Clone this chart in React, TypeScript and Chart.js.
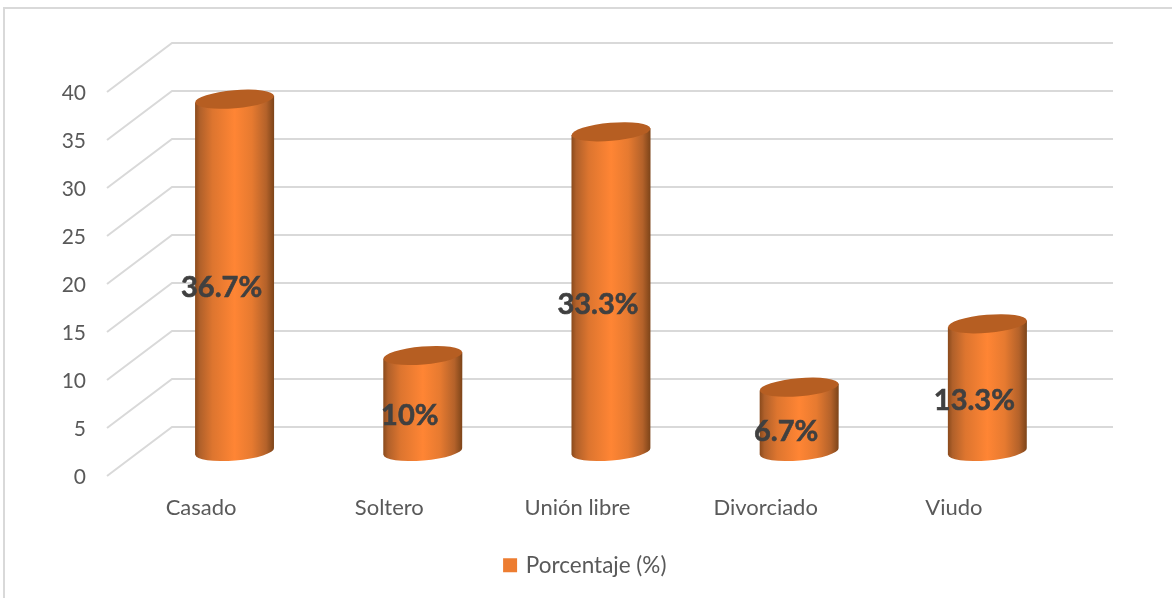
import React, { useEffect, useRef } from "react";
import { Chart, registerables } from "chart.js";

Chart.register(...registerables);

const categories = ["Casado", "Soltero", "Unión libre", "Divorciado", "Viudo"];
const percentages = [36.7, 10, 33.3, 6.7, 13.3];
const valueLabels = ["36.7%", "10%", "33.3%", "6.7%", "13.3%"];
const seriesName = "Porcentaje (%)";

const FONT = "Lato, Carlito, sans-serif";
const GRID = "#d9d9d9";
const DEPTH_X = 65;
const DEPTH_Y = -49;
const TILT = -0.085;

// Walls of the 3D box: a diagonal on the side wall and a line along the back wall per tick.
const boxGrid = {
  id: "boxGrid",
  beforeDatasetsDraw(chart: any) {
    const { ctx, chartArea, scales } = chart;
    ctx.save();
    ctx.strokeStyle = GRID;
    ctx.lineWidth = 2;
    for (const tick of scales.y.ticks) {
      const y = scales.y.getPixelForValue(tick.value);
      ctx.beginPath();
      ctx.moveTo(chartArea.left, y);
      ctx.lineTo(chartArea.left + DEPTH_X, y + DEPTH_Y);
      ctx.lineTo(chartArea.right + DEPTH_X, y + DEPTH_Y);
      ctx.stroke();
    }
    ctx.restore();
  },
};

// Replaces the flat bars with cylinders standing halfway into the box.
const cylinders = {
  id: "cylinders",
  beforeDatasetDraw(chart: any, args: any) {
    const { ctx } = chart;
    for (const bar of args.meta.data) {
      const rx = bar.width / 2;
      const ry = 9;
      const cx = bar.x + DEPTH_X / 2 + 1;
      const top = bar.y + DEPTH_Y / 2;
      const bottom = bar.base + DEPTH_Y / 2;
      const dy = Math.sin(TILT) * rx;

      const shade = ctx.createLinearGradient(cx - rx, 0, cx + rx, 0);
      shade.addColorStop(0, "#8a4a1c");
      shade.addColorStop(0.06, "#b0602a");
      shade.addColorStop(0.22, "#dd752f");
      shade.addColorStop(0.5, "#ff8534");
      shade.addColorStop(0.72, "#e67a30");
      shade.addColorStop(0.9, "#b4622a");
      shade.addColorStop(1, "#7c4419");

      ctx.save();
      ctx.beginPath();
      ctx.moveTo(cx - rx, top - dy);
      ctx.lineTo(cx - rx, bottom - dy);
      ctx.ellipse(cx, bottom, rx, ry, TILT, Math.PI, 0, true);
      ctx.lineTo(cx + rx, top + dy);
      ctx.closePath();
      ctx.fillStyle = shade;
      ctx.fill();

      ctx.beginPath();
      ctx.ellipse(cx, top, rx, ry, TILT, 0, Math.PI * 2);
      ctx.fillStyle = "#b65e22";
      ctx.fill();
      ctx.restore();
    }
    return false;
  },
  afterDatasetsDraw(chart: any) {
    const { ctx } = chart;
    const meta = chart.getDatasetMeta(0);
    ctx.save();
    ctx.font = `bold 29px ${FONT}`;
    ctx.fillStyle = "#404040";
    ctx.strokeStyle = "#404040";
    ctx.lineWidth = 0.6;
    ctx.textAlign = "center";
    ctx.textBaseline = "middle";
    meta.data.forEach((bar: any, i: number) => {
      const x = bar.x + 20.5;
      const y = (bar.y + bar.base) / 2 - 12;
      ctx.fillText(valueLabels[i], x, y);
      ctx.strokeText(valueLabels[i], x, y);
    });
    ctx.restore();
  },
};

export default function App() {
  const ref = useRef<HTMLCanvasElement>(null);

  useEffect(() => {
    const chart = new Chart(ref.current!, {
      type: "bar",
      data: {
        labels: categories,
        datasets: [
          {
            label: seriesName,
            data: percentages,
            backgroundColor: "#ed7d31",
            categoryPercentage: 1,
            barPercentage: 0.42,
          },
        ],
      },
      plugins: [boxGrid, cylinders],
      options: {
        responsive: false,
        animation: false,
        layout: { padding: { top: 92, bottom: 11.5, left: 0, right: 0 } },
        plugins: {
          tooltip: { enabled: false },
          legend: {
            position: "bottom",
            labels: {
              color: "#595959",
              font: { family: FONT, size: 22.5 },
              usePointStyle: true,
              pointStyle: "rect",
              boxWidth: 9,
              boxHeight: 14,
              padding: 10,
            },
          },
        },
        scales: {
          x: {
            grid: { display: false, drawTicks: false },
            border: { display: false },
            ticks: {
              color: "#595959",
              font: { family: FONT, size: 22 },
              padding: 19,
              maxRotation: 0,
            },
            afterFit: (s: any) => {
              s.height = 68;
            },
          },
          y: {
            min: 0,
            max: 40,
            grid: { display: false, drawTicks: false },
            border: { display: false },
            ticks: {
              stepSize: 5,
              color: "#595959",
              font: { family: FONT, size: 21 },
              padding: 21,
              labelOffset: 1.5,
            },
            afterFit: (s: any) => {
              s.width = 107;
            },
          },
          // Empty right-hand axis that reserves the room taken up by the box depth.
          depth: {
            position: "right",
            grid: { display: false, drawTicks: false },
            border: { display: false },
            ticks: { display: false },
            afterFit: (s: any) => {
              s.width = 124;
            },
          },
        },
      },
    } as any);
    return () => chart.destroy();
  }, []);

  return (
    <div style={{ position: "fixed", left: 0, top: 0, width: 1172, height: 598, background: "#fff" }}>
      <div
        style={{
          position: "absolute",
          left: 3,
          top: 7,
          right: 0,
          bottom: 0,
          borderTop: `2px solid ${GRID}`,
          borderLeft: `2px solid ${GRID}`,
        }}
      />
      <canvas ref={ref} width={1172} height={598} style={{ position: "absolute", left: 0, top: 0 }} />
    </div>
  );
}
